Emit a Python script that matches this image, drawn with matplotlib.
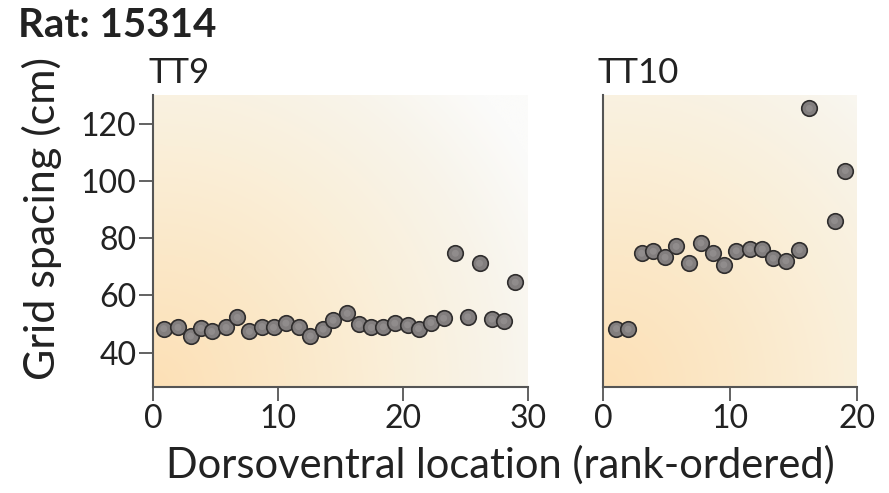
import numpy as np
import matplotlib
matplotlib.use("Agg")
import matplotlib.pyplot as plt
from matplotlib.colors import LinearSegmentedColormap

plt.rcParams['font.family'] = ['Lato', 'DejaVu Sans']

# Data
tt9_x = [0.86, 2.0, 3.0, 3.83, 4.69, 5.84, 6.75, 7.71, 8.73, 9.64,
         10.63, 11.65, 12.59, 13.61, 14.41, 15.54, 16.47, 17.47, 18.43, 19.34,
         20.36, 21.24, 22.23, 23.25, 24.19, 25.18, 26.12, 27.11, 28.07, 28.98]
tt9_y = [48.4, 48.8, 45.8, 48.5, 47.4, 48.8, 52.3, 47.4, 49.1, 48.8,
         50.3, 49.1, 45.8, 48.2, 51.3, 53.7, 49.9, 48.8, 49.0, 50.3,
         49.7, 48.4, 50.5, 52.0, 74.7, 52.5, 71.2, 51.7, 51.1, 64.6]

tt10_x = [1.06, 1.98, 3.04, 3.96, 4.89, 5.76, 6.79, 7.71, 8.67, 9.51,
          10.49, 11.55, 12.55, 13.4, 14.4, 15.46, 16.25, 18.23, 19.08]
tt10_y = [48.4, 48.2, 74.7, 75.4, 73.3, 77.1, 71.3, 78.3, 74.7, 70.7,
          75.6, 76.2, 76.2, 73.0, 72.1, 75.9, 125.3, 86.1, 103.6]

y_ticks = [40, 60, 80, 100, 120]
y_lim = (28, 130)

fig = plt.figure(figsize=(8.89, 4.93), dpi=100)
W, H = 889, 493

def make_ax(left, right, top, bottom):
    return fig.add_axes([left / W, 1 - bottom / H, (right - left) / W, (bottom - top) / H])

ax1 = make_ax(153, 528, 95, 387)
ax2 = make_ax(603, 857, 95, 387)

# warm radial background, brightest at top-right
bg = LinearSegmentedColormap.from_list(
    "bg", [(0.0, "#fde0b6"), (0.3, "#fbe8c8"), (0.55, "#faefd9"),
           (0.8, "#f8f4ea"), (1.0, "#fbfbfa")])

def background(ax, wpx, hpx):
    gx, gy = np.meshgrid(np.linspace(0, wpx, 200), np.linspace(0, hpx, 200))
    r = np.sqrt(gx ** 2 + gy ** 2) / 440.0
    ax.imshow(np.clip(r, 0, 1), cmap=bg, vmin=0, vmax=1, origin="lower",
              extent=[0, 1, 0, 1], transform=ax.transAxes, aspect="auto",
              zorder=0, interpolation="bicubic")

background(ax1, 375, 292)
background(ax2, 254, 292)

for ax, xs, ys, xmax in [(ax1, tt9_x, tt9_y, 30), (ax2, tt10_x, tt10_y, 20)]:
    ax.scatter(xs, ys, s=125, c="#827e7e", edgecolors="#2f2d2d",
               linewidths=1.2, zorder=3)
    ax.scatter(xs, ys, s=25, c="#9a9696", edgecolors="none", zorder=4,
               alpha=0.6)
    ax.set_xlim(0, xmax)
    ax.set_ylim(*y_lim)
    ax.set_xticks([0, 10, 20, 30] if xmax == 30 else [0, 10, 20])
    for s in ["top", "right"]:
        ax.spines[s].set_visible(False)
    for s in ["left", "bottom"]:
        ax.spines[s].set_color("#555555")
        ax.spines[s].set_linewidth(1.5)
    ax.tick_params(axis="both", direction="out", length=10, width=1.3,
                   color="#555555", labelsize=23, labelcolor="#222222", pad=2)

ax1.set_yticks(y_ticks)
ax2.set_yticks([])

ax1.text(-0.013, 1.02, "TT9", transform=ax1.transAxes, fontsize=25,
         color="#222222", ha="left", va="bottom")
ax2.text(-0.02, 1.02, "TT10", transform=ax2.transAxes, fontsize=25,
         color="#222222", ha="left", va="bottom")

fig.text(18 / W, 1 - 37 / H, "Rat: 15314", fontsize=29, fontweight="bold",
         color="#222222", ha="left", va="baseline")
fig.text(500 / W, 1 - 465 / H, "Dorsoventral location (rank-ordered)",
         fontsize=30, color="#222222", ha="center", va="center")
fig.text(42 / W, 1 - 218 / H, "Grid spacing (cm)", fontsize=31,
         color="#222222", ha="center", va="center", rotation=90)

fig.savefig("out.png", dpi=100)
